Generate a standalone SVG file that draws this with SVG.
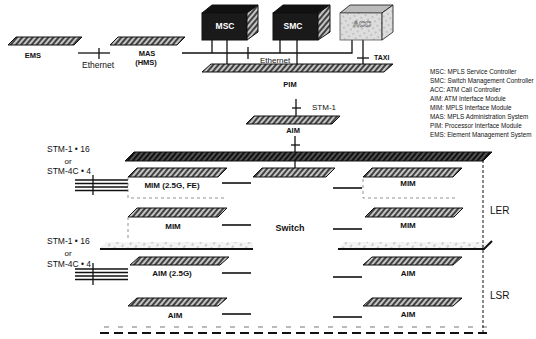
<svg xmlns="http://www.w3.org/2000/svg" width="536" height="339" viewBox="0 0 536 339">
<defs>
<pattern id="hatch" width="4" height="4" patternUnits="userSpaceOnUse" patternTransform="rotate(40)">
<rect width="4" height="4" fill="#c4c4c4"/><line x1="1" y1="0" x2="1" y2="4" stroke="#333" stroke-width="1.8"/>
</pattern>
<pattern id="dark" width="4" height="4" patternUnits="userSpaceOnUse" patternTransform="rotate(40)">
<rect width="4" height="4" fill="#555"/><line x1="1" y1="0" x2="1" y2="4" stroke="#111" stroke-width="2.2"/>
</pattern>
<pattern id="light" width="6" height="6" patternUnits="userSpaceOnUse" patternTransform="rotate(30)">
<rect width="6" height="6" fill="#f4f4f4"/><line x1="1" y1="0" x2="1" y2="3" stroke="#999" stroke-width="0.8"/>
</pattern>
<pattern id="speck" width="5" height="5" patternUnits="userSpaceOnUse" patternTransform="rotate(60)">
<rect width="5" height="5" fill="#ddd"/><line x1="1" y1="0" x2="1" y2="2" stroke="#999" stroke-width="0.8"/>
</pattern>
</defs>
<style>
.plate{fill:url(#hatch);stroke:#111;stroke-width:1}
.big{fill:url(#dark);stroke:#111;stroke-width:1}
.t{font-family:"Liberation Sans",Arial,sans-serif;fill:#111}
.b{font-family:"Liberation Sans",Arial,sans-serif;font-weight:bold;fill:#111;text-anchor:middle}
.w{font-family:"Liberation Sans",Arial,sans-serif;font-weight:bold;fill:#fff;text-anchor:middle;font-size:8.5px}
.ln{stroke:#111;stroke-width:1.3;fill:none}
.sh{stroke:#111;stroke-width:1.6;fill:none}
.faint{stroke:#777;stroke-width:0.8;fill:none;stroke-dasharray:3 3}
.leg{font-family:"Liberation Sans",Arial,sans-serif;font-size:6.3px;fill:#111}
</style>
<rect width="536" height="339" fill="#fff"/>

<g id="connectors">
<line class="ln" x1="78" y1="53" x2="110" y2="53"/>
<line class="ln" x1="99" y1="48" x2="99" y2="59"/>
<polyline class="ln" points="182,53 352,53 352,40"/>
<line class="ln" x1="248" y1="47" x2="248" y2="59"/>
<line class="ln" x1="212" y1="40" x2="212" y2="53"/>
<line class="ln" x1="227" y1="40" x2="227" y2="68"/>
<line class="ln" x1="280" y1="40" x2="280" y2="53"/>
<line class="ln" x1="297" y1="40" x2="297" y2="68"/>
<line class="ln" x1="363" y1="40" x2="363" y2="68"/>
<line class="ln" x1="357" y1="58" x2="369" y2="58"/>
<line class="ln" x1="296" y1="99" x2="296" y2="120"/>
<line class="ln" x1="292" y1="108" x2="301" y2="108"/>
<line class="ln" x1="295" y1="136" x2="295" y2="173"/>
<line class="ln" x1="291" y1="145" x2="300" y2="145"/>
<g class="ln" stroke-width="1">
<line x1="75" y1="180" x2="128" y2="180"/><line x1="75" y1="183.5" x2="128" y2="183.5"/>
<line x1="75" y1="187" x2="128" y2="187"/><line x1="75" y1="190.5" x2="128" y2="190.5"/>
<line x1="93" y1="175" x2="93" y2="195"/>
<line x1="75" y1="269" x2="128" y2="269"/><line x1="75" y1="272.5" x2="128" y2="272.5"/>
<line x1="75" y1="276" x2="128" y2="276"/><line x1="75" y1="279.5" x2="128" y2="279.5"/>
<line x1="93" y1="263" x2="93" y2="285"/>
</g>
<line class="sh" x1="222" y1="183" x2="251" y2="183"/>
<line class="sh" x1="222" y1="225" x2="251" y2="225"/>
<line class="sh" x1="222" y1="273" x2="251" y2="273"/>
<line class="sh" x1="222" y1="314" x2="251" y2="314"/>
<line class="sh" x1="333" y1="188" x2="362" y2="188"/>
<line class="sh" x1="333" y1="229" x2="362" y2="229"/>
<line class="sh" x1="333" y1="277" x2="362" y2="277"/>
<line class="sh" x1="333" y1="317" x2="362" y2="317"/>
</g>

<g id="EMS">
<polygon class="plate" points="8,45 16,37 82,37 74,45"/>
<text class="b" x="33" y="58" font-size="7.5">EMS</text>
</g>
<text class="t" x="82" y="68" font-size="8.5">Ethernet</text>

<g id="MAS">
<polygon class="plate" points="110,45 118,37 185,37 177,45"/>
<text class="b" x="147" y="56" font-size="7.5">MAS</text>
<text class="b" x="146" y="64.5" font-size="7.5">(HMS)</text>
</g>

<g id="MSC">
<polygon points="202,13 212,5 258,5 247,13" fill="#111" stroke="#111"/>
<rect x="202" y="13" width="45" height="27" fill="#1a1a1a" stroke="#111"/>
<polygon points="247,13 258,5 258,32 247,40" fill="url(#hatch)" stroke="#111"/>
<text class="w" x="225" y="29">MSC</text>
</g>

<g id="SMC">
<polygon points="273,13 283,5 330,5 318,13" fill="#111" stroke="#111"/>
<rect x="273" y="13" width="45" height="27" fill="#1a1a1a" stroke="#111"/>
<polygon points="318,13 330,5 330,32 318,40" fill="url(#hatch)" stroke="#111"/>
<text class="w" x="293" y="29">SMC</text>
</g>

<g id="ACC">
<polygon points="340,13 350,5 393,5 382,13" fill="#bbb" stroke="#111" stroke-width="0.8"/>
<rect x="340" y="13" width="42" height="27" fill="url(#speck)" stroke="#555" stroke-width="0.8"/>
<polygon points="382,13 393,5 393,32 382,40" fill="url(#speck)" stroke="#111" stroke-width="0.8"/>
<text class="w" x="362" y="27" stroke="#555" stroke-width="0.5">ACC</text>
</g>

<text class="t" x="260" y="63" font-size="8">Ethernet</text>
<text class="t" x="374" y="60" font-size="7" font-weight="bold">TAXI</text>

<g id="PIM">
<polygon class="plate" points="202,72 211,64 393,64 384,72"/>
<text class="b" x="290" y="87" font-size="7.5">PIM</text>
</g>
<text class="t" x="312" y="110" font-size="8">STM-1</text>

<g id="AIM-top">
<polygon class="plate" points="246,124 254,116 340,116 332,124"/>
<text class="b" x="293" y="133" font-size="7.5">AIM</text>
</g>

<g id="legend">
<text class="leg" x="430" y="74">MSC: MPLS Service Controller</text>
<text class="leg" x="430" y="83">SMC: Switch Management Controller</text>
<text class="leg" x="430" y="92">ACC: ATM Call Controller</text>
<text class="leg" x="430" y="101">AIM:  ATM Interface Module</text>
<text class="leg" x="430" y="110">MIM: MPLS Interface Module</text>
<text class="leg" x="430" y="119">MAS: MPLS Administration System</text>
<text class="leg" x="430" y="128">PIM:  Processor Interface Module</text>
<text class="leg" x="430" y="137">EMS: Element Management System</text>
</g>

<g id="STM-labels">
<text class="t" x="47" y="152" font-size="8.5">STM-1 • 16</text>
<text class="t" x="68" y="164" font-size="8" text-anchor="middle">or</text>
<text class="t" x="47" y="174" font-size="8.5">STM-4C • 4</text>
<text class="t" x="47" y="244" font-size="8.5">STM-1 • 16</text>
<text class="t" x="68" y="256" font-size="8" text-anchor="middle">or</text>
<text class="t" x="47" y="266.5" font-size="8.5">STM-4C • 4</text>
</g>

<g id="Switch">
<polygon class="big" points="125,161 134,152 492,152 483,161"/>
<polygon class="plate" points="253,177 262,168 335,168 326,177"/>
<text class="b" x="290" y="231" font-size="9">Switch</text>
</g>

<g id="MIM-2.5G-FE">
<polygon class="plate" points="128,177 137,168 227,168 218,177"/>
<polyline class="faint" points="128,177 128,198 225,198" stroke-dasharray="none" stroke="#666"/>
<text class="b" x="172" y="188" font-size="8">MIM (2.5G, FE)</text>
</g>
<g id="MIM-L2">
<polygon class="plate" points="128,217 137,208 227,208 218,217"/>
<line class="faint" x1="128" y1="217" x2="128" y2="238" stroke-dasharray="none" stroke="#666"/>
<text class="b" x="173" y="229" font-size="8">MIM</text>
</g>
<g id="MIM-R1">
<polygon class="plate" points="363,177 372,168 462,168 453,177"/>
<polyline class="faint" points="363,179 363,198 455,198"/>
<text class="b" x="408" y="186" font-size="8">MIM</text>
</g>
<g id="MIM-R2">
<polygon class="plate" points="365,217 374,208 463,208 454,217"/>
<text class="b" x="408" y="228" font-size="8">MIM</text>
</g>

<g id="divider">
<polygon points="100,249 106,242 253,242 253,249" fill="url(#light)"/>
<line x1="100" y1="249" x2="253" y2="249" stroke="#111" stroke-width="2"/>
<polygon points="338,249 344,242 492,242 484,249" fill="url(#light)"/>
<polyline points="338,249 484,249 492,241" stroke="#111" stroke-width="2" fill="none"/>
</g>

<g id="AIM-2.5G">
<polygon class="plate" points="130,265 139,257 229,257 220,265"/>
<text class="b" x="172" y="276" font-size="8">AIM (2.5G)</text>
</g>
<g id="AIM-L2">
<polygon class="plate" points="128,306 137,298 227,298 218,306"/>
<text class="b" x="175" y="318" font-size="8">AIM</text>
</g>
<g id="AIM-R1">
<polygon class="plate" points="363,265 372,257 462,257 453,265"/>
<text class="b" x="408" y="276" font-size="8">AIM</text>
</g>
<g id="AIM-R2">
<polygon class="plate" points="363,306 372,298 462,298 453,306"/>
<text class="b" x="408" y="317" font-size="8">AIM</text>
</g>

<g id="bottom">
<line x1="104" y1="327" x2="490" y2="327" stroke="#777" stroke-width="1.2" stroke-dasharray="5 9"/>
<line x1="100" y1="333" x2="487" y2="333" stroke="#111" stroke-width="2" stroke-dasharray="9 5"/>
</g>

<g id="LER-LSR">
<line x1="483" y1="160" x2="483" y2="334" stroke="#111" stroke-width="1" stroke-dasharray="3 2"/>
<text class="t" x="490" y="214" font-size="10">LER</text>
<text class="t" x="490" y="299" font-size="10">LSR</text>
</g>
</svg>
